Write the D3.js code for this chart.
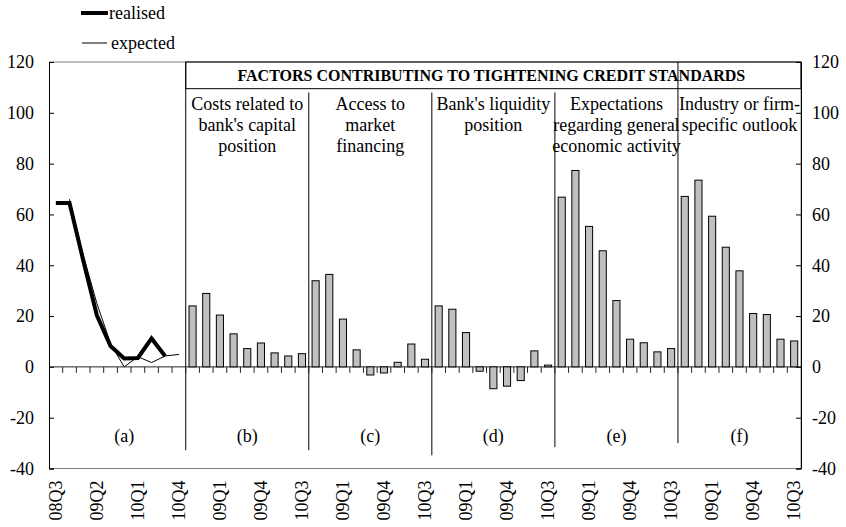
<!DOCTYPE html>
<html>
<head>
<meta charset="utf-8">
<script src="https://cdn.jsdelivr.net/npm/d3@7"></script>
<style>
  html, body { margin: 0; padding: 0; background: #fff; }
  svg { display: block; }
  text { font-family: "Liberation Serif", "Times New Roman", serif; fill: #000; }
</style>
</head>
<body>
<svg id="chart" width="846" height="527"></svg>
<script>
// ---------------- DATA ----------------
const quartersA = ["08Q3","08Q4","09Q1","09Q2","09Q3","09Q4","10Q1","10Q2","10Q3","10Q4"];
const quartersB = ["08Q3","08Q4","09Q1","09Q2","09Q3","09Q4","10Q1","10Q2","10Q3"];

const realised = [64.5, 64.5, 42, 20.3, 8.2, 3.3, 3.5, 11.2, 4.2, null];
const expected = [null, 66, 44, 25, 9.2, 0, 4, 1.7, 4.3, 4.9];

const capitalPosition   = [24, 28.9, 20.4, 13, 7.2, 9.4, 5.5, 4.3, 5.2];
const marketFinancing   = [33.9, 36.4, 18.8, 6.7, -3.2, -2.4, 1.8, 9, 3];
const liquidityPosition = [24, 22.7, 13.5, -1.7, -8.6, -7.6, -5.4, 6.3, 0.7];
const economicActivity  = [66.8, 77.3, 55.3, 45.7, 26.1, 10.9, 9.5, 5.9, 7.2];
const industryOutlook   = [67.1, 73.5, 59.3, 47.1, 37.8, 21, 20.6, 10.9, 10.2];

const panelTitles = [
  ["Costs related to", "bank's capital", "position"],
  ["Access to", "market", "financing"],
  ["Bank's liquidity", "position"],
  ["Expectations", "regarding general", "economic activity"],
  ["Industry or firm-", "specific outlook"]
];
const panelLetters = ["(a)", "(b)", "(c)", "(d)", "(e)", "(f)"];
const headerTitle = "FACTORS CONTRIBUTING TO TIGHTENING CREDIT STANDARDS";
const yTicks = [-40, -20, 0, 20, 40, 60, 80, 100, 120];
const legendLabels = ["realised", "expected"];

// ---------------- BUILD ----------------
const barSeries = [capitalPosition, marketFinancing, liquidityPosition, economicActivity, industryOutlook];
const categories = quartersA.slice();
barSeries.forEach(() => quartersB.forEach(q => categories.push(q)));
const panelStarts = [0];
let s = quartersA.length;
barSeries.forEach(() => { panelStarts.push(s); s += quartersB.length; });

const svg = d3.select("#chart");
const L = 49, R = 801, T = 62, B = 468.5;
const idx = d3.range(categories.length);
const x = d3.scaleBand().domain(idx).range([L, R]).paddingInner(0.48).paddingOuter(0.24);
const step = x.step();
const cx = i => x(i) + x.bandwidth() / 2;
const edge = i => cx(i) - step / 2;
const y = d3.scaleLinear().domain([-40, 120]).range([B, T]);

// plot border (top, bottom, right)
svg.append("path")
  .attr("d", `M${L},${y(120)}H${R}V${y(-40)}H${L}`)
  .attr("fill", "none").attr("stroke", "#808080").attr("stroke-width", 1);

// left axis
const yl = svg.append("g").attr("transform", `translate(${L},0)`)
  .call(d3.axisRight(y).tickValues(yTicks).tickSize(5).tickFormat(""));
yl.select(".domain").attr("stroke", "#000");
yl.selectAll(".tick line").attr("stroke", "#000");
svg.append("g").selectAll("text").data(yTicks).join("text")
  .attr("x", 34).attr("y", d => y(d)).attr("dy", "0.35em")
  .attr("text-anchor", "end").attr("font-size", 18).text(d => d);

// right axis
const yr = svg.append("g").attr("transform", `translate(${R},0)`)
  .call(d3.axisLeft(y).tickValues(yTicks).tickSize(5).tickFormat(""));
yr.select(".domain").attr("stroke", "#000");
yr.selectAll(".tick line").attr("stroke", "#000");
svg.append("g").selectAll("text").data(yTicks).join("text")
  .attr("x", 812).attr("y", d => y(d)).attr("dy", "0.35em")
  .attr("text-anchor", "start").attr("font-size", 18).text(d => d);

// header box
const boxBottom = 109.5;
svg.append("rect")
  .attr("x", edge(panelStarts[1])).attr("y", y(120))
  .attr("width", R - edge(panelStarts[1])).attr("height", y(boxBottom) - y(120))
  .attr("fill", "none").attr("stroke", "#000").attr("stroke-width", 1);
svg.append("text")
  .attr("x", (edge(panelStarts[1]) + R) / 2 - 2).attr("y", (y(120) + y(boxBottom)) / 2)
  .attr("dy", "0.35em").attr("text-anchor", "middle")
  .attr("font-size", 16).attr("font-weight", "bold").text(headerTitle);

// panel dividers
const dividerTops = [120, 108, 108, 108, 120];
const dividerBottoms = [-32.8, -32.8, -34.8, -31.6, -30];
panelStarts.slice(1).forEach((p, k) => {
  svg.append("line")
    .attr("x1", edge(p)).attr("x2", edge(p))
    .attr("y1", y(dividerTops[k])).attr("y2", y(dividerBottoms[k]))
    .attr("stroke", "#000").attr("stroke-width", 1);
});

// zero axis with category ticks
svg.append("line").attr("x1", L).attr("x2", R).attr("y1", y(0)).attr("y2", y(0))
  .attr("stroke", "#222").attr("stroke-width", 1);
svg.append("g").selectAll("line").data(d3.range(1, categories.length)).join("line")
  .attr("x1", d => edge(d)).attr("x2", d => edge(d))
  .attr("y1", y(0)).attr("y2", y(0) + 6)
  .attr("stroke", "#222").attr("stroke-width", 1);

// bars
barSeries.forEach((vals, k) => {
  const start = panelStarts[k + 1];
  svg.append("g").selectAll("rect").data(vals).join("rect")
    .attr("x", (d, i) => x(start + i))
    .attr("width", x.bandwidth())
    .attr("y", d => y(Math.max(0, d)))
    .attr("height", d => Math.abs(y(d) - y(0)))
    .attr("fill", "#c0c0c0").attr("stroke", "#000").attr("stroke-width", 1);
});

// lines in panel (a)
const lineGen = d3.line().defined(d => d != null).x((d, i) => cx(i)).y(d => y(d));
svg.append("path").datum(expected).attr("d", lineGen)
  .attr("fill", "none").attr("stroke", "#000").attr("stroke-width", 1);
svg.append("path").datum(realised).attr("d", lineGen)
  .attr("fill", "none").attr("stroke", "#000").attr("stroke-width", 4)
  .attr("stroke-linejoin", "miter");

// panel titles
panelTitles.forEach((lines, k) => {
  const mid = panelStarts[k + 1] + Math.floor(quartersB.length / 2);
  const t = svg.append("text").attr("text-anchor", "middle").attr("font-size", 18);
  lines.forEach((ln, j) => {
    t.append("tspan").attr("x", cx(mid)).attr("y", 110 + j * 21).text(ln);
  });
});

// panel letters
panelLetters.forEach((lab, k) => {
  const mid = k === 0 ? panelStarts[0] + Math.floor(quartersA.length / 2)
                      : panelStarts[k] + Math.floor(quartersB.length / 2);
  svg.append("text").attr("x", cx(mid)).attr("y", y(-27)).attr("dy", "0.35em")
    .attr("text-anchor", "middle").attr("font-size", 18).text(lab);
});

// x labels (every third category)
svg.append("g").selectAll("text").data(idx.filter(i => i % 3 === 0)).join("text")
  .attr("transform", d => `translate(${cx(d) + 6},${B + 12}) rotate(-90)`)
  .attr("text-anchor", "end").attr("font-size", 18).text(d => categories[d]);

// legend
const lg = svg.append("g");
lg.append("line").attr("x1", 81).attr("x2", 108).attr("y1", 13).attr("y2", 13)
  .attr("stroke", "#000").attr("stroke-width", 4);
lg.append("text").attr("x", 109).attr("y", 13).attr("dy", "0.35em").attr("font-size", 18).text(legendLabels[0]);
lg.append("line").attr("x1", 82).attr("x2", 107).attr("y1", 43).attr("y2", 43)
  .attr("stroke", "#000").attr("stroke-width", 1);
lg.append("text").attr("x", 111).attr("y", 43).attr("dy", "0.35em").attr("font-size", 18).text(legendLabels[1]);
</script>
</body>
</html>
